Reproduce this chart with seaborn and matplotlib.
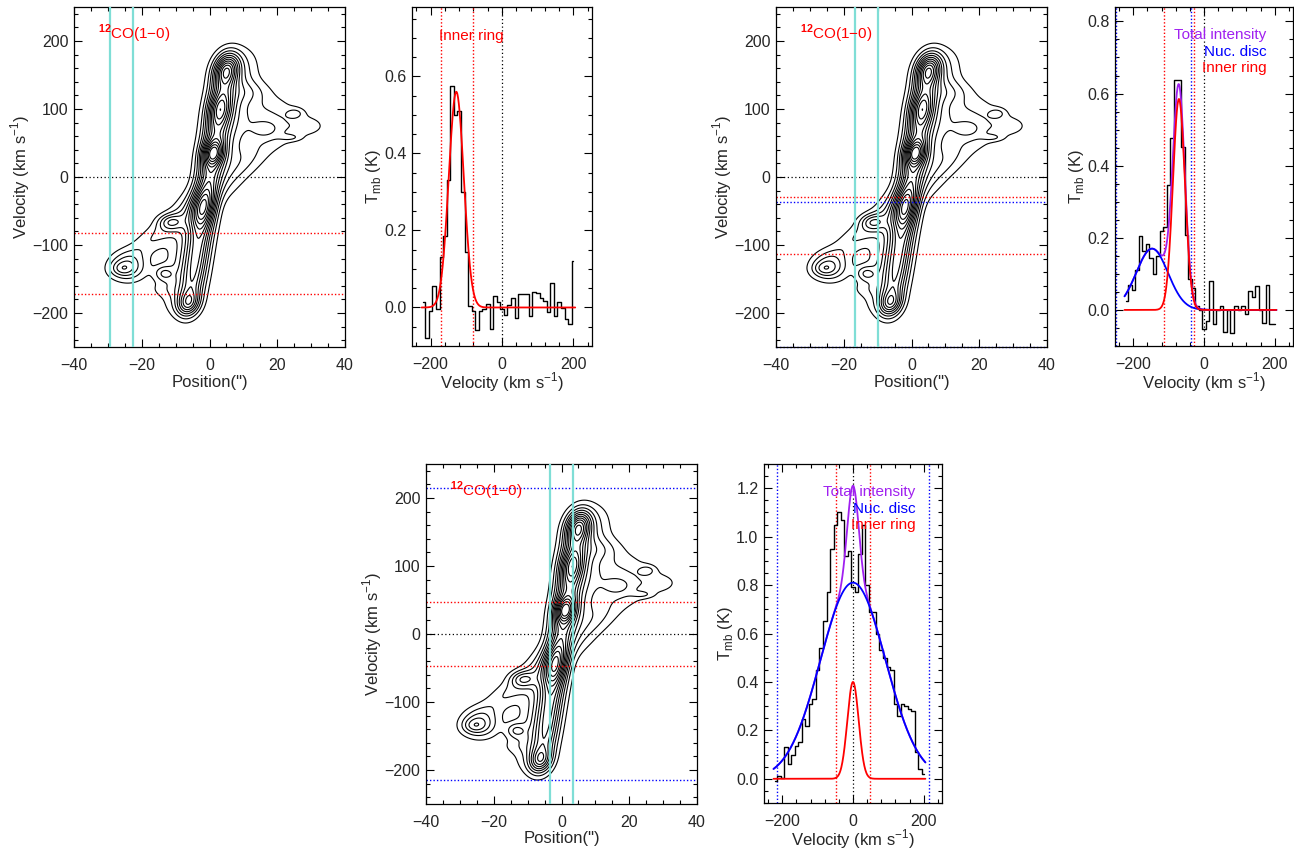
import numpy as np
import pandas as pd
import matplotlib
matplotlib.use("Agg")
import matplotlib.pyplot as plt
from matplotlib.ticker import MultipleLocator, FormatStrFormatter
import seaborn as sns

# ---- spectra: channel centres (km/s) and Tmb (K) ----
vel_chan = [-220, -210, -200, -190, -180, -170, -160, -150, -140, -130,
            -120, -110, -100, -90, -80, -70, -60, -50, -40, -30,
            -20, -10, 0, 10, 20, 30, 40, 50, 60, 70,
            80, 90, 100, 110, 120, 130, 140, 150, 160, 170,
            180, 190, 200]

tmb_1 = [0.015, -0.08, -0.01, 0.055, -0.005, 0.13, 0.185, 0.33, 0.575, 0.50,
         0.51, 0.30, 0.145, 0.005, -0.01, -0.058, -0.01, -0.005, 0.01, -0.055,
         0.03, 0.015, -0.005, -0.02, 0.007, 0.025, -0.028, 0.034, 0.035, 0.036,
         -0.022, 0.039, 0.038, 0.025, 0.017, -0.013, 0.063, -0.022, 0.013, -0.002,
         -0.03, -0.043, 0.12]

tmb_2 = [0.025, 0.069, 0.056, 0.111, 0.205, 0.164, 0.182, 0.145, 0.10, 0.15,
         0.22, 0.23, 0.347, 0.476, 0.637, 0.637, 0.453, 0.209, 0.087, 0.06,
         0.01, 0.0, -0.052, -0.03, 0.081, -0.04, 0.0, 0.012, -0.062, 0.0,
         -0.064, 0.01, 0.0, 0.012, -0.01, 0.053, 0.035, 0.067, 0.0, -0.036,
         0.069, -0.04, -0.04]

tmb_3 = [-0.01, 0.01, 0.005, 0.13, 0.06, 0.10, 0.135, 0.15, 0.245, 0.22,
         0.31, 0.33, 0.45, 0.54, 0.65, 0.77, 0.95, 1.05, 1.10, 1.07,
         0.92, 0.94, 0.79, 0.77, 0.93, 1.05, 0.80, 0.69, 0.69, 0.60,
         0.53, 0.50, 0.46, 0.45, 0.31, 0.26, 0.31, 0.30, 0.29, 0.28,
         0.11, 0.04, 0.02]

# gaussian fits: (amplitude K, centre km/s, sigma km/s)
ring_fit = [(0.56, -128, 21), (0.585, -71, 17), (0.40, 0, 16)]
disc_fit = [None, (0.17, -147, 45), (0.81, 0, 92)]

# slit positions (arcsec) and velocity windows (km/s)
slit_centre = [-25.9, -13.2, 0.0]
slit_half = 3.4
ring_win = [(-172, -82), (-113, -29), (-47, 47)]
disc_win = [None, (-250, -37), (-215, 215)]

# ---- PV diagram: emission knots ----
# position ("), velocity (km/s), width in position, width in velocity,
# shear (" per km/s), peak, velocity profile exponent
knot_pos = [-0.5, 5.5, -7.0,
            5.0, 3.0, 1.0, -2.0, -6.3,
            -24.0, -26.0, -14.0, -11.6, -13.5, -14.0,
            17.0, 29.0, 16.6, 25.3, 23.8, 11.0, 12.0]
knot_vel = [-12, 80, -110,
            158, 100, 35, -45, -186,
            -132, -135, -80, -66, -142, -165,
            80, 75, 70, 94, 58, 25, 125]
knot_spos = [2.6, 4.5, 4.0,
             2.4, 2.3, 2.1, 2.3, 2.2,
             3.8, 2.2, 4.0, 2.5, 2.0, 3.0,
             7.0, 4.0, 3.0, 1.8, 2.2, 4.0, 4.0]
knot_svel = [168, 95, 80,
             15, 16, 12, 20, 12,
             15, 7, 30, 8, 8, 8,
             28, 10, 9, 5, 3.5, 20, 12]
knot_shear = [0.031, 0.031, 0.031,
              0.031, 0.031, 0.031, 0.031, 0.031,
              0.0, 0.0, 0.22, 0.0, 0.0, 0.0,
              0.0, 0.0, 0.0, 0.0, 0.0, 0.1, 0.0]
knot_amp = [0.50, 0.24, 0.16,
            0.45, 0.26, 0.45, 0.36, 0.32,
            0.28, 0.12, 0.17, 0.22, 0.20, 0.06,
            0.18, 0.10, 0.10, 0.12, 0.10, 0.12, 0.10]
knot_exp = [8, 6, 6,
            2, 2, 2, 2, 2,
            2, 2, 2, 2, 2, 2,
            2, 2, 2, 2, 2, 2, 2]
levels = [0.07, 0.14, 0.21, 0.28, 0.35, 0.42, 0.49, 0.56, 0.63, 0.70, 0.77, 0.84, 0.91]

RED = '#ff0000'
BLUE = '#0000ff'
PURPLE = '#a020f0'
CYAN = '#7fded6'

sns.set_style('ticks')
plt.rcParams['font.family'] = ['Liberation Sans', 'DejaVu Sans']
plt.rcParams['mathtext.fontset'] = 'custom'
plt.rcParams['mathtext.rm'] = 'Liberation Sans'
plt.rcParams['mathtext.bf'] = 'Liberation Sans:bold'
plt.rcParams['axes.linewidth'] = 0.9

pp = np.linspace(-40, 40, 401)
vv = np.linspace(-250, 250, 501)
P, V = np.meshgrid(pp, vv)
Z = np.zeros_like(P)
for x0, v0, sx, sv, k, a, n in zip(knot_pos, knot_vel, knot_spos, knot_svel,
                                   knot_shear, knot_amp, knot_exp):
    U = (P - x0) - k * (V - v0)
    Z += a * np.exp(-0.5 * (U / sx) ** 2 - 0.5 * np.abs((V - v0) / sv) ** n)
Z /= Z.max()

vfine = np.linspace(-225, 205, 431)


def gauss(p):
    a, c, s = p
    return a * np.exp(-0.5 * ((vfine - c) / s) ** 2)


def style(ax, xmaj, xmin, ymaj, ymin):
    ax.xaxis.set_major_locator(MultipleLocator(xmaj))
    ax.xaxis.set_minor_locator(MultipleLocator(xmin))
    ax.yaxis.set_major_locator(MultipleLocator(ymaj))
    ax.yaxis.set_minor_locator(MultipleLocator(ymin))
    ax.tick_params(which='both', direction='in', top=True, right=True,
                   labelsize=11.5, color='black', width=0.8)
    ax.tick_params(which='major', length=6)
    ax.tick_params(which='minor', length=3)
    ax.tick_params(axis='y', pad=4)
    ax.tick_params(axis='x', pad=8)
    for s in ax.spines.values():
        s.set_color('black')


W, H = 1294, 850
pv_boxes = [(74, 7), (776, 7), (426, 464)]
sp_boxes = [(412, 7, 180), (1115, 7, 178), (764, 464, 178)]
sp_ymax = [0.78, 0.84, 1.30]
label_v = [[0.705], [0.761, 0.716, 0.670], [1.185, 1.116, 1.047]]

fig = plt.figure(figsize=(W / 100, H / 100), dpi=100)

for i in range(3):
    # ---------------- PV diagram ----------------
    x0, y0 = pv_boxes[i]
    ax = fig.add_axes([x0 / W, 1 - (y0 + 340) / H, 271 / W, 340 / H])
    ax.contour(P, V, Z, levels=levels, colors='black', linewidths=0.8)
    for xs in (slit_centre[i] - slit_half, slit_centre[i] + slit_half):
        ax.axvline(xs, color=CYAN, lw=1.6, zorder=3)
    ax.axhline(0, color='black', ls=(0, (1, 2)), lw=0.9)
    for v in ring_win[i]:
        ax.axhline(v, color=RED, ls=(0, (1, 1.5)), lw=1.0)
    if disc_win[i] is not None:
        for v in disc_win[i]:
            ax.axhline(v, color=BLUE, ls=(0, (1, 1.5)), lw=1.0, clip_on=False)
    ax.text(-33, 210, '$^{\\mathbf{12}}$CO(1\u22120)', color=RED, fontsize=11,
            va='center', ha='left')
    ax.set_xlim(-40, 40)
    ax.set_ylim(-250, 250)
    style(ax, 20, 5, 100, 20)
    ax.set_xlabel('Position(")', fontsize=12, labelpad=1)
    ax.set_ylabel('Velocity (km s$^{-1}$)', fontsize=12, labelpad=0)

    # ---------------- spectrum ----------------
    sx0, sy0, sw = sp_boxes[i]
    ax2 = fig.add_axes([sx0 / W, 1 - (sy0 + 339) / H, sw / W, 339 / H])
    ax2.axvline(0, color='black', ls=(0, (1, 2)), lw=0.9)
    for v in ring_win[i]:
        ax2.axvline(v, color=RED, ls=(0, (1, 1.5)), lw=1.0)
    if disc_win[i] is not None:
        for v in disc_win[i]:
            ax2.axvline(v, color=BLUE, ls=(0, (1, 1.5)), lw=1.0, clip_on=False)

    tmb = [tmb_1, tmb_2, tmb_3][i]
    df = pd.DataFrame({'vel': vel_chan, 'tmb': tmb})
    sns.lineplot(data=df, x='vel', y='tmb', ax=ax2, color='black', lw=1.0,
                 drawstyle='steps-mid', estimator=None, sort=False)

    ring = gauss(ring_fit[i])
    if disc_win[i] is not None:
        disc = gauss(disc_fit[i])
        fit = pd.DataFrame({'vel': vfine, 'total': ring + disc, 'disc': disc, 'ring': ring})
        sns.lineplot(data=fit, x='vel', y='total', ax=ax2, color=PURPLE, lw=1.3)
        sns.lineplot(data=fit, x='vel', y='disc', ax=ax2, color=BLUE, lw=1.3)
        sns.lineplot(data=fit, x='vel', y='ring', ax=ax2, color=RED, lw=1.3)
        tx = 176
        ax2.text(tx, label_v[i][0], 'Total intensity', color=PURPLE, fontsize=11, ha='right', va='center')
        ax2.text(tx, label_v[i][1], 'Nuc. disc', color=BLUE, fontsize=11, ha='right', va='center')
        ax2.text(tx, label_v[i][2], 'Inner ring', color=RED, fontsize=11, ha='right', va='center')
    else:
        fit = pd.DataFrame({'vel': vfine, 'ring': ring})
        sns.lineplot(data=fit, x='vel', y='ring', ax=ax2, color=RED, lw=1.3)
        ax2.text(-85, label_v[i][0], 'Inner ring', color=RED, fontsize=11, ha='center', va='center')

    ax2.set_xlim(-252, 252)
    ax2.set_ylim(-0.1, sp_ymax[i])
    style(ax2, 200, 40, 0.2, 0.05)
    ax2.yaxis.set_major_formatter(FormatStrFormatter('%.1f'))
    ax2.set_xlabel('Velocity (km s$^{-1}$)', fontsize=12, labelpad=-1)
    ax2.set_ylabel('T$_{\\rm mb}$ (K)', fontsize=12, labelpad=1)

fig.savefig('out.png', dpi=100)
